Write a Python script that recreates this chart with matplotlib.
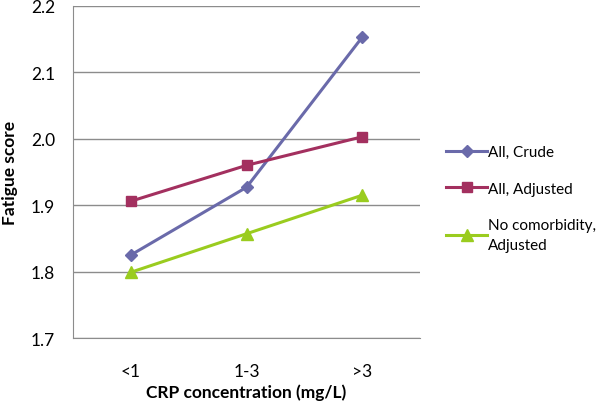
import numpy as np
import matplotlib.pyplot as plt

plt.rcParams['font.family'] = ['Lato', 'DejaVu Sans']

categories = ["<1", "1-3", ">3"]
all_crude = [1.825, 1.927, 2.153]
all_adjusted = [1.906, 1.960, 2.003]
no_comorb_adjusted = [1.799, 1.857, 1.915]

fig = plt.figure(figsize=(6.01, 4.02), dpi=100)
ax = fig.add_axes([0.1215, 0.1567, 0.5775, 0.826])

x = np.arange(len(categories))
ax.plot(x, all_crude, color="#6A6AAA", lw=2.2, marker="D", ms=6.5, label="All, Crude")
ax.plot(x, all_adjusted, color="#A3305F", lw=2.2, marker="s", ms=7, label="All, Adjusted")
ax.plot(x, no_comorb_adjusted, color="#9ACC1F", lw=2.2, marker="^", ms=8,
        label="No comorbidity,\nAdjusted")

ax.set_xlim(-0.5, 2.5)
ax.set_ylim(1.7, 2.2)
ax.set_xticks(x)
ax.set_xticklabels(categories)
ax.set_yticks(np.arange(1.7, 2.21, 0.1))
ax.set_yticklabels([f"{v:.1f}" for v in np.arange(1.7, 2.21, 0.1)])
ax.yaxis.grid(True, color="#8C8C8C", lw=1)
ax.set_axisbelow(True)
for s in ["top", "right"]:
    ax.spines[s].set_visible(False)
for s in ["left", "bottom"]:
    ax.spines[s].set_color("#8C8C8C")
ax.tick_params(length=0, labelsize=12.5)
ax.tick_params(axis="y", pad=13)
ax.tick_params(axis="x", pad=18)

ax.set_xlabel("CRP concentration (mg/L)", fontsize=12.5, fontweight="bold", labelpad=3)
ax.set_ylabel("Fatigue score", fontsize=12.5, fontweight="bold", labelpad=9)

leg = ax.legend(loc="center left", bbox_to_anchor=(1.035, 0.42), frameon=False, fontsize=11,
                handlelength=2.7, labelspacing=1.45, handletextpad=0.05)
for t in leg.get_texts():
    t.set_linespacing(1.55)

fig.savefig("out.png", dpi=100)
